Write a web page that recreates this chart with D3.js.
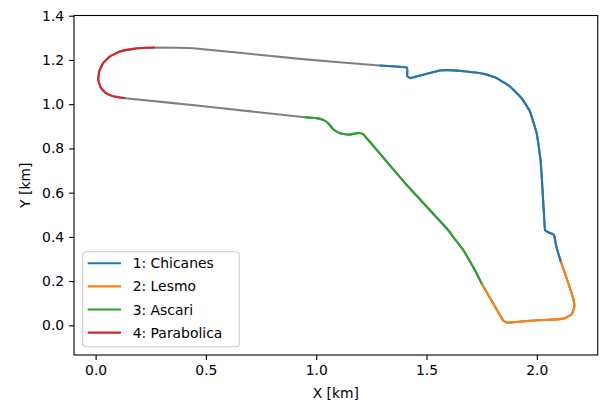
<!DOCTYPE html>
<html>
<head>
<meta charset="utf-8">
<script src="https://cdn.jsdelivr.net/npm/d3@7"></script>
<style>
  body { margin: 0; background: #fff; }
  text { font-family: "DejaVu Sans", sans-serif; fill: #000; }
</style>
</head>
<body>
<div id="chart"></div>
<script>
// one lap (km)
var trackX = [0.269, 0.442, 0.926, 1.286,
  1.410, 1.412, 1.428, 1.485, 1.561, 1.598, 1.682, 1.765, 1.818, 1.878, 1.931, 1.969, 2.000,
  2.017, 2.025, 2.032, 2.037, 2.052, 2.078, 2.087, 2.097, 2.109,
  2.135, 2.165, 2.170, 2.158, 2.127, 2.090, 1.969, 1.870, 1.848, 1.802, 1.751,
  1.719, 1.666, 1.629, 1.591, 1.402, 1.213, 1.175, 1.145, 1.107, 1.077, 1.054, 1.032, 1.002, 0.949,
  0.458, 0.133,
  0.080, 0.047, 0.023, 0.012, 0.016, 0.034, 0.065, 0.110, 0.170, 0.231, 0.269];
var trackY = [1.256, 1.253, 1.205, 1.175,
  1.166, 1.128, 1.118, 1.133, 1.152, 1.154, 1.148, 1.136, 1.118, 1.080, 1.027, 0.967, 0.866,
  0.748, 0.627, 0.507, 0.431, 0.421, 0.409, 0.363, 0.326, 0.288,
  0.213, 0.122, 0.084, 0.050, 0.032, 0.027, 0.021, 0.012, 0.021, 0.100, 0.187,
  0.250, 0.341, 0.389, 0.439, 0.644, 0.864, 0.867, 0.862, 0.869, 0.887, 0.914, 0.929, 0.937, 0.941,
  0.994, 1.027,
  1.036, 1.050, 1.075, 1.110, 1.148, 1.186, 1.216, 1.238, 1.250, 1.255, 1.256];

var sectorNames = ["1: Chicanes", "2: Lesmo", "3: Ascari", "4: Parabolica"];
var sectorStart = [3, 25, 36, 52];
var sectorEnd = [25, 36, 50, 63];
var sectorColors = ["#1f77b4", "#ff7f0e", "#2ca02c", "#d62728"];

var xTicks = [0, 0.5, 1, 1.5, 2];
var yTicks = [0, 0.2, 0.4, 0.6, 0.8, 1.0, 1.2, 1.4];

var svgWidth = 601;
var svgHeight = 404;
var plot = { left: 74, top: 15.5, right: 597.7, bottom: 355 };

var svg = d3.select("#chart")
  .append("svg")
  .attr("width", svgWidth)
  .attr("height", svgHeight);

// equal aspect, limits as in the picture
var xScale = d3.scaleLinear().domain([-0.098, 2.276]).range([plot.left, plot.right]);
var yScale = d3.scaleLinear().domain([-0.134, 1.401]).range([plot.bottom, plot.top]);

var points = trackX.map((x, i) => [x, trackY[i]]);
// light smoothing only, the track has sharp chicanes
var line = d3.line()
  .curve(d3.curveCardinal.tension(0.7))
  .x(d => xScale(d[0]))
  .y(d => yScale(d[1]));

svg.append("path")
  .datum(points)
  .attr("d", line)
  .attr("fill", "none")
  .attr("stroke", "#808080")
  .attr("stroke-width", 2.1)
  .attr("stroke-linejoin", "round");

sectorNames.forEach(function(name, i) {
  svg.append("path")
    .datum(points.slice(sectorStart[i], sectorEnd[i] + 1))
    .attr("d", line)
    .attr("fill", "none")
    .attr("stroke", sectorColors[i])
    .attr("stroke-width", 2.1)
    .attr("stroke-linejoin", "round");
});

// axes
var bottomAxis = d3.axisBottom(xScale)
  .tickValues(xTicks)
  .tickFormat(d3.format(".1f"))
  .tickSizeInner(4.9)
  .tickSizeOuter(0)
  .tickPadding(4.9);
var leftAxis = d3.axisLeft(yScale)
  .tickValues(yTicks)
  .tickFormat(d3.format(".1f"))
  .tickSizeInner(4.9)
  .tickSizeOuter(0)
  .tickPadding(4.9);

var xAxis = svg.append("g")
  .attr("transform", `translate(0, ${plot.bottom})`)
  .call(bottomAxis);
var yAxis = svg.append("g")
  .attr("transform", `translate(${plot.left}, 0)`)
  .call(leftAxis);

[xAxis, yAxis].forEach(function(g) {
  g.select(".domain").remove();
  g.selectAll(".tick line").attr("stroke", "#000").attr("stroke-width", 1.1);
  g.selectAll(".tick text")
    .attr("font-size", "13.9px")
    .attr("font-family", "DejaVu Sans, sans-serif")
    .attr("fill", "#000");
});

svg.append("rect")
  .attr("x", plot.left)
  .attr("y", plot.top)
  .attr("width", plot.right - plot.left)
  .attr("height", plot.bottom - plot.top)
  .attr("fill", "none")
  .attr("stroke", "#000")
  .attr("stroke-width", 1.1);

svg.append("text")
  .attr("x", (plot.left + plot.right) / 2)
  .attr("y", 398)
  .attr("text-anchor", "middle")
  .attr("font-size", "13.9px")
  .text("X [km]");

svg.append("text")
  .attr("transform", `translate(29.5, ${(plot.top + plot.bottom) / 2}) rotate(-90)`)
  .attr("text-anchor", "middle")
  .attr("font-size", "13.9px")
  .text("Y [km]");

// legend
var legend = svg.append("g");
legend.append("rect")
  .attr("x", 82.7)
  .attr("y", 251.7)
  .attr("width", 156.6)
  .attr("height", 95)
  .attr("rx", 3)
  .attr("fill", "#fff")
  .attr("fill-opacity", 0.8)
  .attr("stroke", "#cccccc")
  .attr("stroke-width", 1.1);

sectorNames.forEach(function(name, i) {
  var cy = 263.3 + i * 23.1;
  legend.append("line")
    .attr("x1", 87.7)
    .attr("x2", 121)
    .attr("y1", cy)
    .attr("y2", cy)
    .attr("stroke", sectorColors[i])
    .attr("stroke-width", 2.1);
  legend.append("text")
    .attr("x", 132.7)
    .attr("y", cy + 5)
    .attr("font-size", "13.9px")
    .text(name);
});
</script>
</body>
</html>
